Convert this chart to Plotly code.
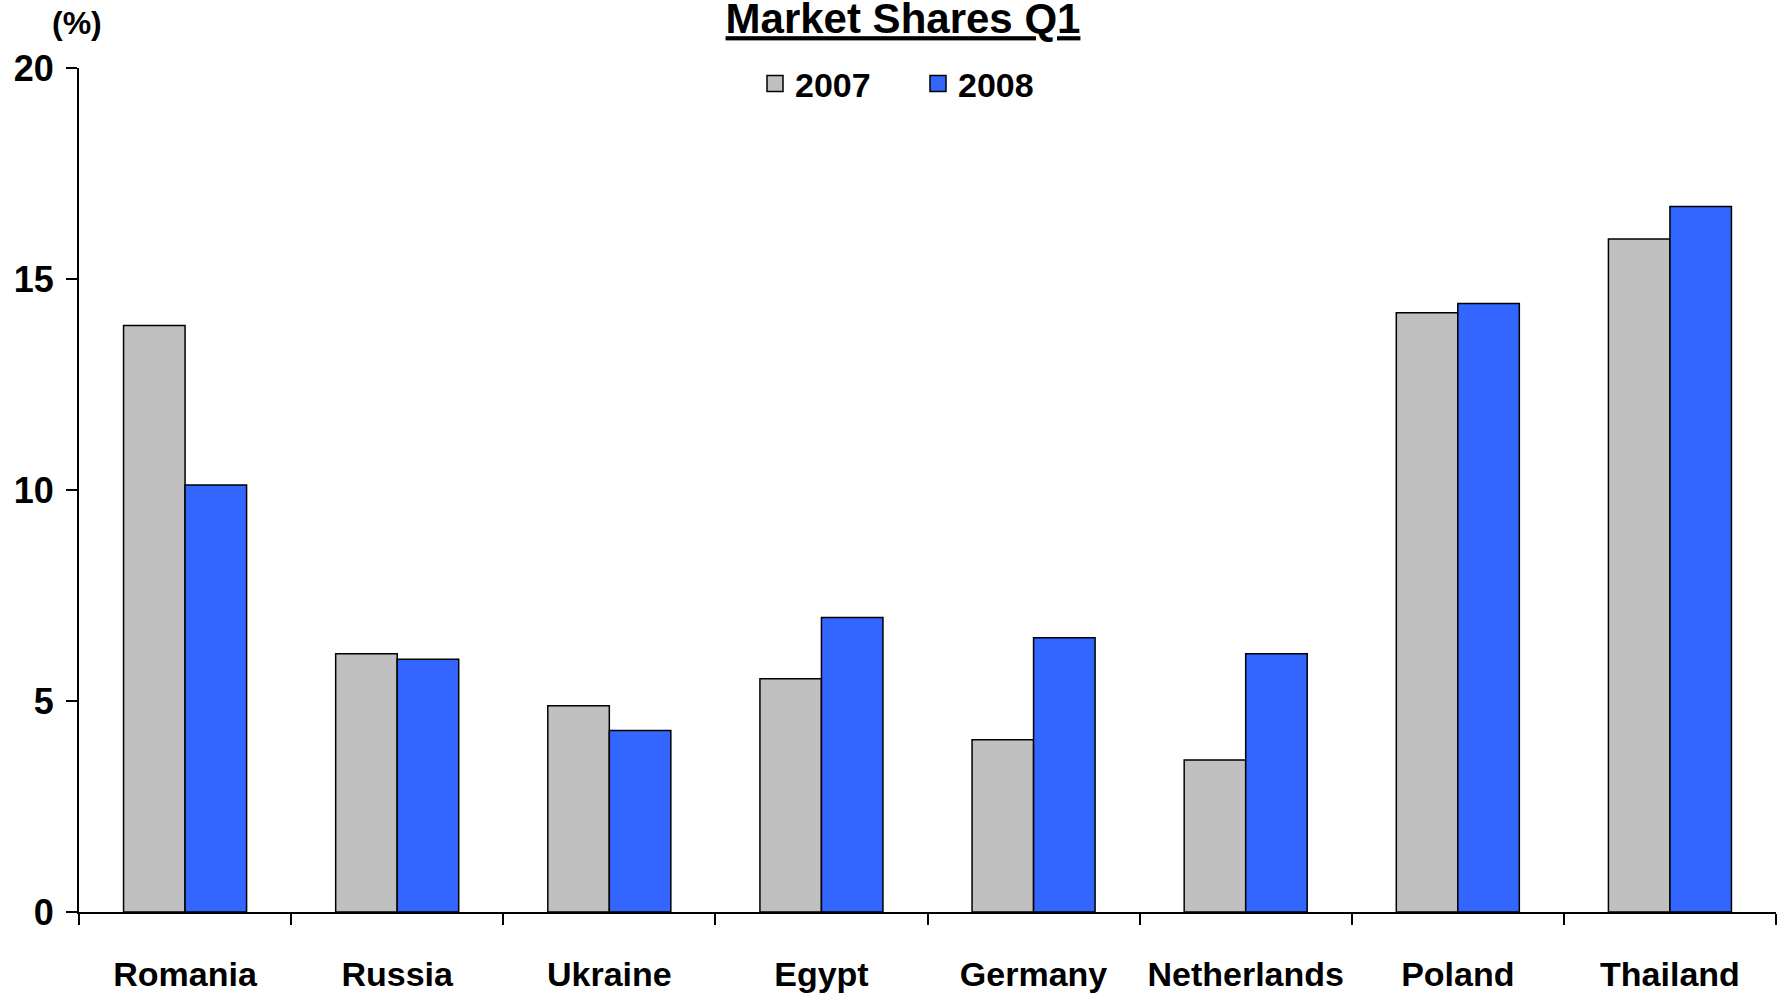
import plotly.graph_objects as go

countries = ["Romania", "Russia", "Ukraine", "Egypt", "Germany", "Netherlands", "Poland", "Thailand"]
share_2007 = [13.9, 6.12, 4.89, 5.53, 4.08, 3.6, 14.2, 15.95]
share_2008 = [10.12, 5.99, 4.3, 6.98, 6.5, 6.12, 14.42, 16.72]
series_names = ["2007", "2008"]
y_ticks = [0, 5, 10, 15, 20]

colors = ["#C0C0C0", "#3366FF"]
FONT = "Liberation Sans, Arial, sans-serif"

fig = go.Figure()
for name, vals, col in zip(series_names, [share_2007, share_2008], colors):
    fig.add_trace(go.Bar(
        x=countries, y=vals, name=name, legendgroup=name, showlegend=False,
        marker=dict(color=col, line=dict(color="black", width=1.5)),
    ))
for name, col in zip(series_names, colors):
    fig.add_trace(go.Scatter(
        x=[None], y=[None], mode="markers", name=name, legendgroup=name,
        marker=dict(symbol="square", size=16, color=col, line=dict(color="black", width=1.5)),
    ))

W, H = 1777, 997
ml = 79
mt = 68
mr = W - 1776
mb = H - 912
pw = W - ml - mr
ph = H - mt - mb

fig.update_layout(
    width=W, height=H,
    margin=dict(l=ml, r=mr, t=mt, b=mb, pad=0, autoexpand=False),
    paper_bgcolor="white", plot_bgcolor="white",
    font=dict(family=FONT, color="black", size=34, weight="bold"),
    barmode="group", bargap=0.42, bargroupgap=0,
    title=dict(
        text="<u>Market Shares Q1</u>",
        font=dict(family=FONT, size=42, color="black", weight="bold"),
        x=903 / W, xanchor="center", xref="container",
        y=1 - 18.5 / H, yanchor="middle", yref="container",
        automargin=False,
    ),
    legend=dict(
        orientation="h",
        x=(755 - ml) / pw, xanchor="left",
        y=1 + (mt - 84) / ph, yanchor="middle",
        font=dict(family=FONT, size=34, color="black", weight="bold"),
        entrywidth=118, entrywidthmode="pixels",
        bgcolor="rgba(0,0,0,0)", borderwidth=0,
    ),
    xaxis=dict(
        type="category", tickson="boundaries", ticks="outside", ticklen=11,
        tickwidth=2, tickcolor="black", showline=True, linecolor="black", linewidth=2,
        showgrid=False, zeroline=False, ticklabelstandoff=31, automargin=False,
        tickfont=dict(family=FONT, size=34, color="black", weight="bold"),
    ),
    yaxis=dict(
        range=[0, 20], tickvals=y_ticks, ticks="outside", ticklen=11,
        tickwidth=2, tickcolor="black", showline=True, linecolor="black", linewidth=2,
        showgrid=False, zeroline=False, ticklabelstandoff=5, automargin=False,
        tickfont=dict(family=FONT, size=36, color="black", weight="bold"),
    ),
    annotations=[dict(
        text="(%)", xref="paper", yref="paper",
        x=(77 - ml) / pw, y=1 + (mt - 23) / ph, xanchor="center", yanchor="middle",
        showarrow=False, font=dict(family=FONT, size=32, color="black", weight="bold"),
    )],
)

fig.write_html("out.html", config={"displayModeBar": False},
               post_script="document.body.style.margin='0';")
